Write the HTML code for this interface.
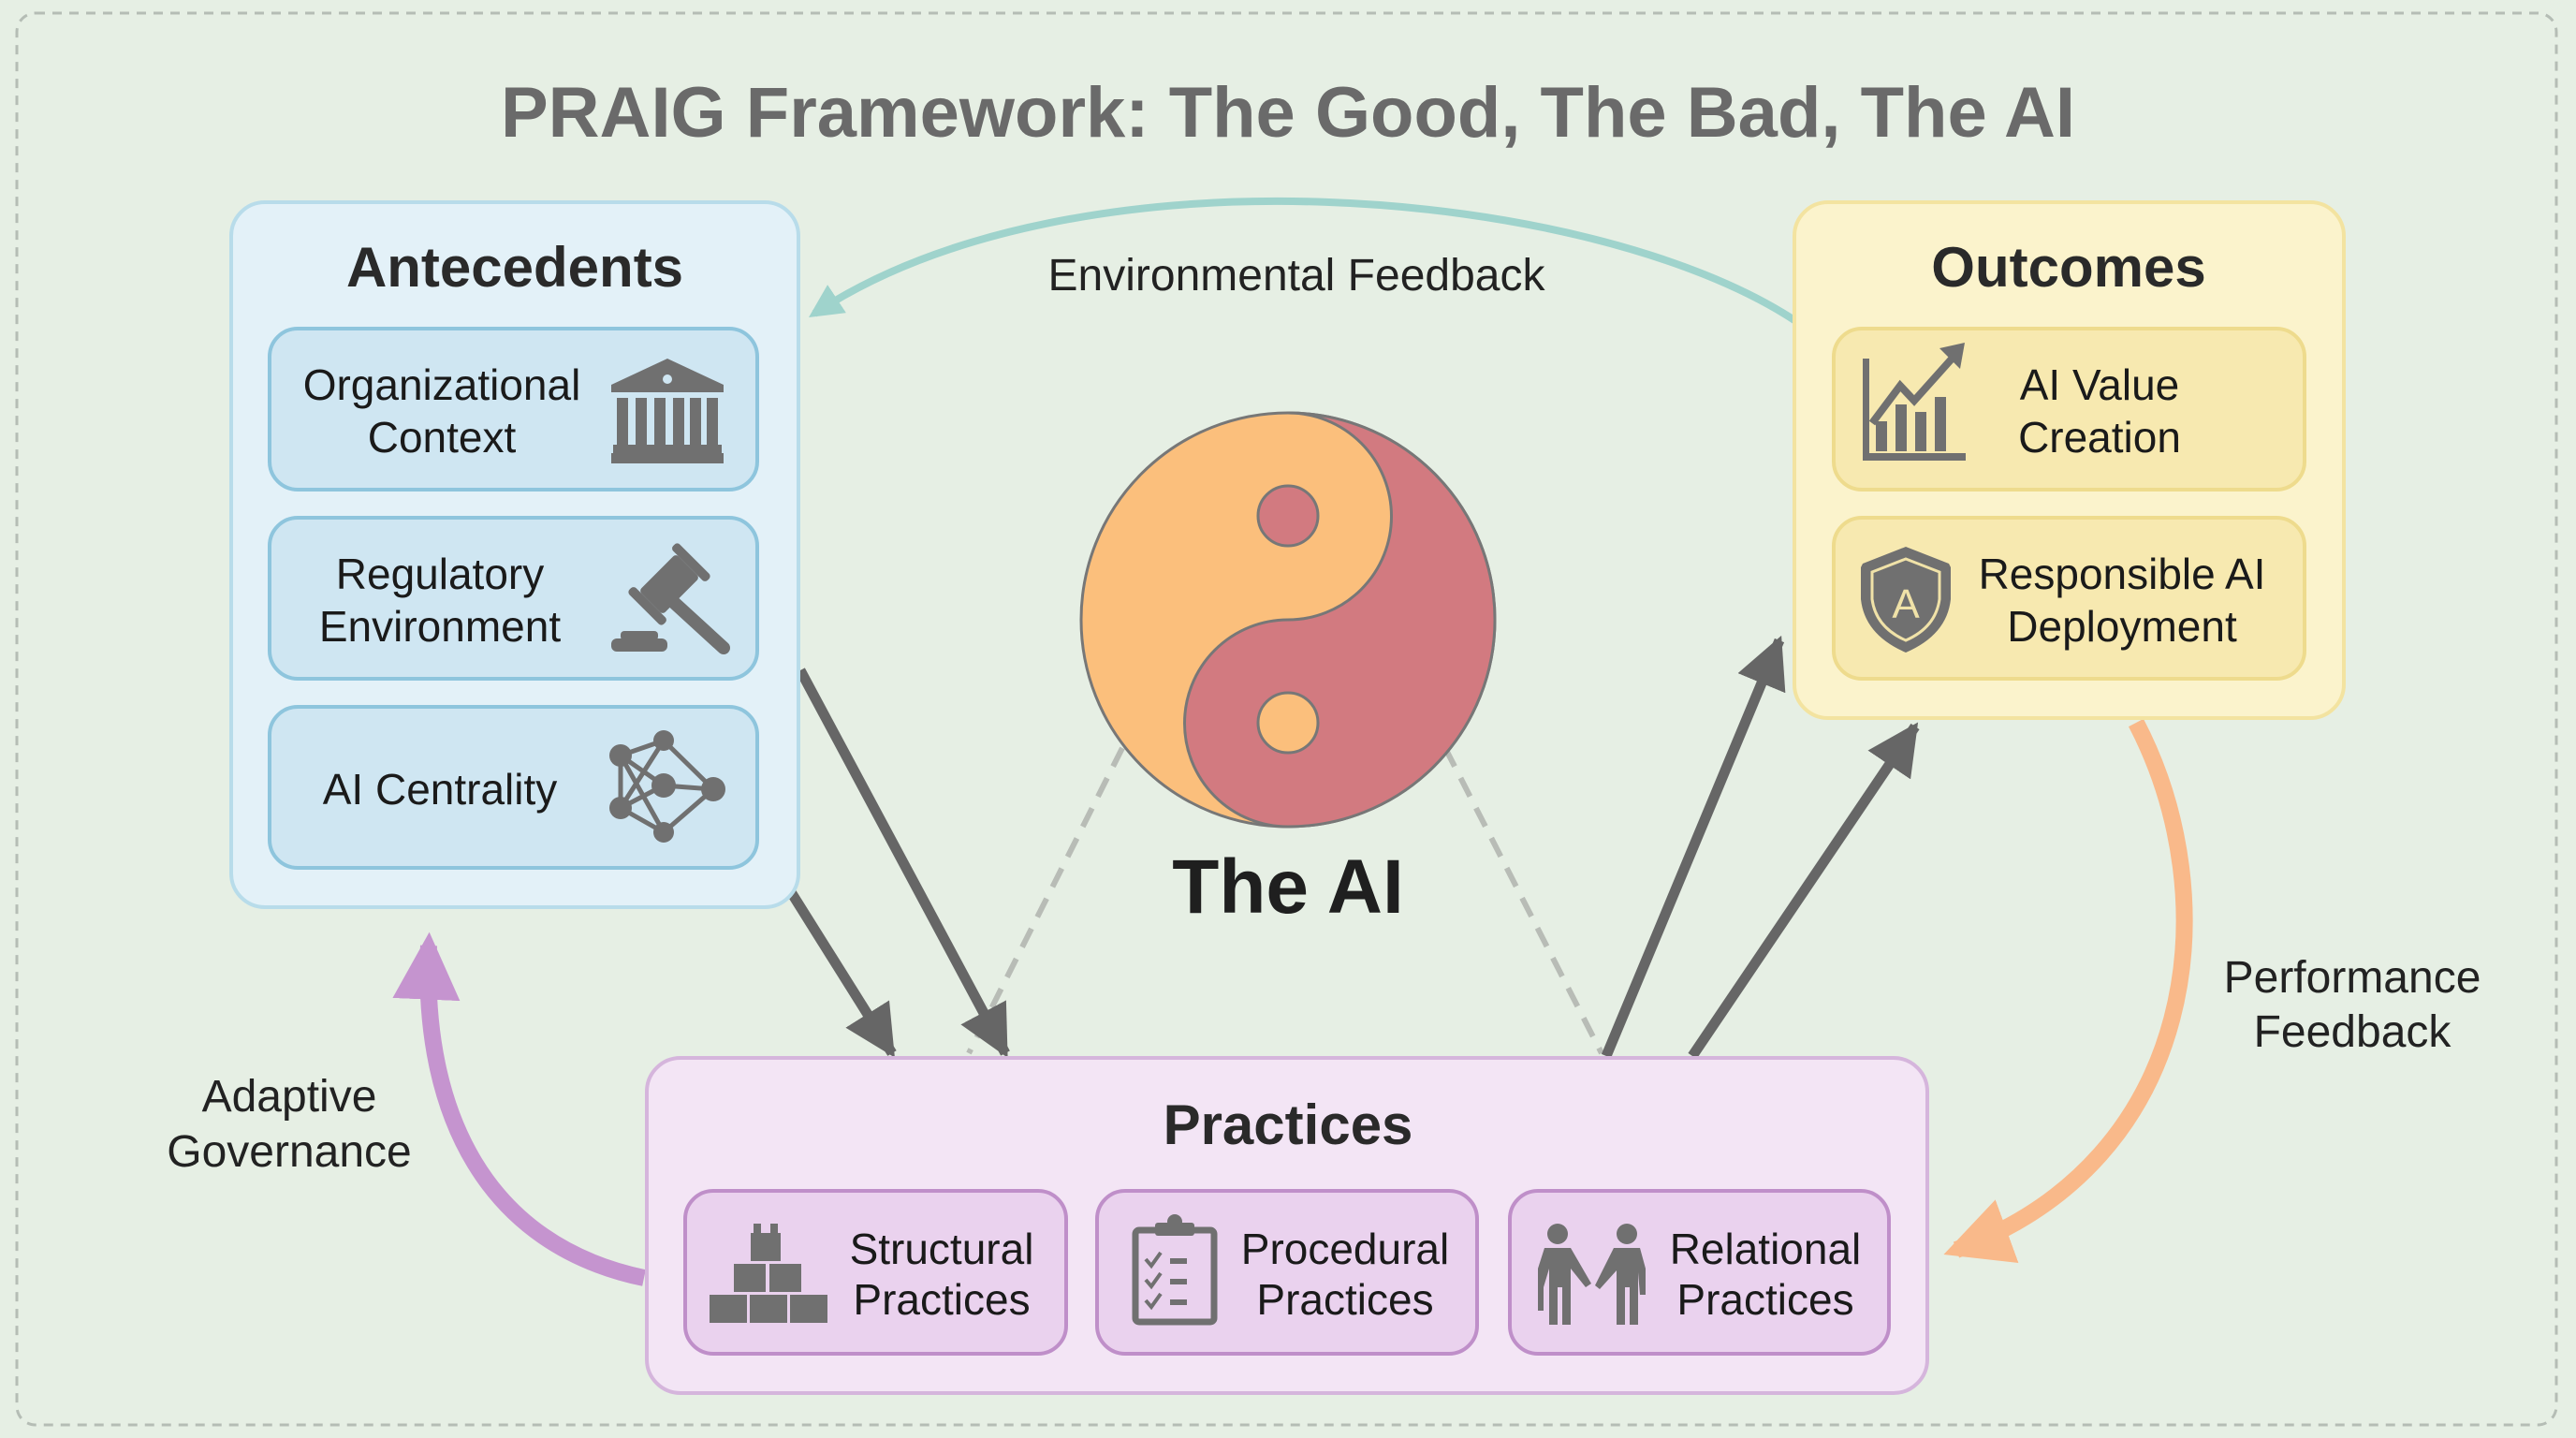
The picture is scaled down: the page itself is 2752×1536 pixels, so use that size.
<!DOCTYPE html>
<html><head><meta charset="utf-8"><style>
html,body{margin:0;padding:0;background:#e6efe4;}
svg{display:block}
text{font-family:"Liberation Sans",sans-serif;}
</style></head><body>
<svg width="2752" height="1536" viewBox="0 0 2752 1536" xmlns="http://www.w3.org/2000/svg">
<defs>
<marker id="ag" viewBox="0 0 10 10" refX="9" refY="5" markerWidth="5" markerHeight="5" orient="auto" markerUnits="strokeWidth"><path d="M0,0 L10,5 L0,10 z" fill="#666"/></marker>
<marker id="at" viewBox="0 0 10 10" refX="8" refY="5" markerWidth="4.5" markerHeight="4.5" orient="auto" markerUnits="strokeWidth"><path d="M0,0 L10,5 L0,10 z" fill="#9fd3cc"/></marker>
<marker id="ao" viewBox="0 0 10 10" refX="8" refY="5" markerWidth="4" markerHeight="4" orient="auto" markerUnits="strokeWidth"><path d="M0,0 L10,5 L0,10 z" fill="#f9b98a"/></marker>
<marker id="ap" viewBox="0 0 10 10" refX="8" refY="5" markerWidth="4" markerHeight="4" orient="auto" markerUnits="strokeWidth"><path d="M0,0 L10,5 L0,10 z" fill="#c594cf"/></marker>
</defs>
<rect x="0" y="0" width="2752" height="1536" fill="#e6efe4"/>
<rect x="18" y="14" width="2713" height="1508" rx="20" fill="none" stroke="#b5bdb5" stroke-width="3" stroke-dasharray="10 8"/>
<text x="1376" y="146" font-size="76" font-weight="bold" fill="#6a6a6a" text-anchor="middle">PRAIG Framework: The Good, The Bad, The AI</text>

<!-- feedback arcs -->
<path d="M1917,342 C1700,200 1150,150 870,335" fill="none" stroke="#9fd3cc" stroke-width="8" marker-end="url(#at)"/>
<text x="1385" y="310" font-size="48" fill="#222" text-anchor="middle">Environmental Feedback</text>
<path d="M2282,772 C2380,960 2350,1240 2090,1335" fill="none" stroke="#f9b98a" stroke-width="18" marker-end="url(#ao)"/>
<text x="2513" y="1060" font-size="48" fill="#222" text-anchor="middle">Performance</text>
<text x="2513" y="1118" font-size="48" fill="#222" text-anchor="middle">Feedback</text>
<path d="M688,1365 C520,1330 450,1190 458,1010" fill="none" stroke="#c594cf" stroke-width="18" marker-end="url(#ap)"/>
<text x="309" y="1187" font-size="48" fill="#222" text-anchor="middle">Adaptive</text>
<text x="309" y="1246" font-size="48" fill="#222" text-anchor="middle">Governance</text>

<!-- dashed lines -->
<line x1="1199" y1="799" x2="1035" y2="1125" stroke="#b8bcb6" stroke-width="6" stroke-dasharray="22 14"/>
<line x1="1544" y1="799" x2="1711" y2="1125" stroke="#b8bcb6" stroke-width="6" stroke-dasharray="22 14"/>

<!-- gray arrows -->
<line x1="855" y1="716" x2="1074" y2="1125" stroke="#666" stroke-width="11" marker-end="url(#ag)"/>
<line x1="842" y1="948" x2="953" y2="1125" stroke="#666" stroke-width="11" marker-end="url(#ag)"/>
<line x1="1716" y1="1128" x2="1901" y2="684" stroke="#666" stroke-width="11" marker-end="url(#ag)"/>
<line x1="1808" y1="1128" x2="2046" y2="776" stroke="#666" stroke-width="11" marker-end="url(#ag)"/>

<!-- Antecedents -->
<rect x="247" y="216" width="606" height="753" rx="36" fill="#e3f1f8" stroke="#b8dcea" stroke-width="4"/>
<text x="550" y="306" font-size="60" font-weight="bold" fill="#2a2a2a" text-anchor="middle">Antecedents</text>
<rect x="288" y="351" width="521" height="172" rx="30" fill="#cfe6f2" stroke="#8ec5dd" stroke-width="4"/>
<rect x="288" y="553" width="521" height="172" rx="30" fill="#cfe6f2" stroke="#8ec5dd" stroke-width="4"/>
<rect x="288" y="755" width="521" height="172" rx="30" fill="#cfe6f2" stroke="#8ec5dd" stroke-width="4"/>
<text x="472" y="427" font-size="46" fill="#1a1a1a" text-anchor="middle">Organizational</text>
<text x="472" y="483" font-size="46" fill="#1a1a1a" text-anchor="middle">Context</text>
<text x="470" y="629" font-size="46" fill="#1a1a1a" text-anchor="middle">Regulatory</text>
<text x="470" y="685" font-size="46" fill="#1a1a1a" text-anchor="middle">Environment</text>
<text x="470" y="859" font-size="46" fill="#1a1a1a" text-anchor="middle">AI Centrality</text>
<!-- bank -->
<g fill="#707070" transform="translate(653,383)">
<path d="M60,0 L120,28 L120,36 L0,36 L0,28 Z"/>
<circle cx="60" cy="22" r="5" fill="#cfe6f2"/>
<rect x="6" y="42" width="12" height="50"/><rect x="26" y="42" width="12" height="50"/><rect x="46" y="42" width="12" height="50"/><rect x="66" y="42" width="12" height="50"/><rect x="84" y="42" width="12" height="50"/><rect x="102" y="42" width="12" height="50"/>
<rect x="2" y="92" width="116" height="9"/><rect x="0" y="101" width="120" height="11"/>
</g>
<!-- gavel -->
<g fill="#707070" transform="translate(653,584)">
<g transform="rotate(45 62 40)">
<rect x="44" y="12" width="36" height="56" rx="4"/>
<rect x="36" y="2" width="52" height="10" rx="4"/>
<rect x="36" y="68" width="52" height="10" rx="4"/>
<rect x="56" y="74" width="13" height="0"/>
</g>
<path d="M62,55 L120,108" stroke="#707070" stroke-width="14" stroke-linecap="round"/>
<rect x="10" y="90" width="40" height="10" rx="4"/><rect x="0" y="98" width="60" height="14" rx="6"/>
</g>
<!-- network -->
<g transform="translate(649,783)">
<g stroke="#707070" stroke-width="5" fill="none">
<path d="M60,8 L14,24 L60,56 L113,60 L60,106 L14,80 L60,56 M60,8 L113,60 M14,24 L60,106 M14,80 L60,8 M14,24 L14,80"/>
</g>
<g fill="#707070"><circle cx="60" cy="8" r="11"/><circle cx="14" cy="24" r="12"/><circle cx="60" cy="56" r="13"/><circle cx="113" cy="60" r="13"/><circle cx="14" cy="80" r="12"/><circle cx="60" cy="106" r="11"/></g>
</g>

<!-- Outcomes -->
<rect x="1917" y="216" width="587" height="551" rx="36" fill="#fbf3cc" stroke="#f3e3a0" stroke-width="4"/>
<text x="2210" y="306" font-size="60" font-weight="bold" fill="#2a2a2a" text-anchor="middle">Outcomes</text>
<rect x="1959" y="351" width="503" height="172" rx="30" fill="#f7e9b0" stroke="#eedb8d" stroke-width="4"/>
<rect x="1959" y="553" width="503" height="172" rx="30" fill="#f7e9b0" stroke="#eedb8d" stroke-width="4"/>
<text x="2243" y="427" font-size="46" fill="#1a1a1a" text-anchor="middle">AI Value</text>
<text x="2243" y="483" font-size="46" fill="#1a1a1a" text-anchor="middle">Creation</text>
<text x="2267" y="629" font-size="46" fill="#1a1a1a" text-anchor="middle">Responsible AI</text>
<text x="2267" y="685" font-size="46" fill="#1a1a1a" text-anchor="middle">Deployment</text>
<g fill="#707070">
<rect x="1990" y="383" width="7" height="108"/><rect x="1990" y="484" width="110" height="8"/>
<rect x="2004" y="450" width="12" height="32"/><rect x="2025" y="432" width="12" height="50"/><rect x="2046" y="440" width="12" height="42"/><rect x="2067" y="424" width="12" height="58"/><rect x="2084" y="405" width="0" height="0"/>
</g>
<path d="M2000,452 L2030,412 L2045,428 L2088,380" stroke="#707070" stroke-width="8" fill="none"/>
<path d="M2099,366 L2072,372 L2094,394 Z" fill="#707070"/>
<path d="M2036,584 L2082,602 L2084,606 L2084,640 Q2080,678 2036,697 Q1992,678 1988,640 L1988,606 L1990,602 Z" fill="#707070"/>
<path d="M2036,597 L2072,611 L2072,640 Q2068,670 2036,684 Q2004,670 2000,640 L2000,611 Z" fill="none" stroke="#f0e2a8" stroke-width="3"/>
<text x="2036" y="660" font-size="44" fill="#f0e2a8" text-anchor="middle">A</text>

<!-- Practices -->
<rect x="691" y="1130" width="1368" height="358" rx="36" fill="#f3e5f5" stroke="#d5b5dc" stroke-width="4"/>
<text x="1376" y="1222" font-size="60" font-weight="bold" fill="#2a2a2a" text-anchor="middle">Practices</text>
<rect x="732" y="1272" width="407" height="174" rx="30" fill="#ead2ee" stroke="#bf8fc9" stroke-width="4"/>
<rect x="1172" y="1272" width="406" height="174" rx="30" fill="#ead2ee" stroke="#bf8fc9" stroke-width="4"/>
<rect x="1613" y="1272" width="405" height="174" rx="30" fill="#ead2ee" stroke="#bf8fc9" stroke-width="4"/>
<text x="1006" y="1350" font-size="46" fill="#1a1a1a" text-anchor="middle">Structural</text>
<text x="1006" y="1404" font-size="46" fill="#1a1a1a" text-anchor="middle">Practices</text>
<text x="1437" y="1350" font-size="46" fill="#1a1a1a" text-anchor="middle">Procedural</text>
<text x="1437" y="1404" font-size="46" fill="#1a1a1a" text-anchor="middle">Practices</text>
<text x="1886" y="1350" font-size="46" fill="#1a1a1a" text-anchor="middle">Relational</text>
<text x="1886" y="1404" font-size="46" fill="#1a1a1a" text-anchor="middle">Practices</text>
<g fill="#707070" transform="translate(758,1307)">
<rect x="47" y="0" width="8" height="12"/><rect x="65" y="0" width="8" height="12"/>
<rect x="44" y="10" width="32" height="30"/>
<rect x="26" y="43" width="34" height="30"/><rect x="64" y="43" width="34" height="30"/>
<rect x="0" y="76" width="40" height="30"/><rect x="43" y="76" width="40" height="30"/><rect x="86" y="76" width="40" height="30"/>
</g>
<g>
<rect x="1213" y="1314" width="84" height="98" rx="4" fill="none" stroke="#707070" stroke-width="7"/>
<rect x="1234" y="1306" width="42" height="14" rx="3" fill="#707070"/><circle cx="1255" cy="1305" r="8" fill="#707070"/>
<path d="M1224,1345 l6,7 l10,-14 M1224,1367 l6,7 l10,-14 M1224,1389 l6,7 l10,-14" stroke="#707070" stroke-width="4" fill="none"/>
<path d="M1250,1347 h18 M1250,1369 h18 M1250,1391 h18" stroke="#707070" stroke-width="6"/>
</g>
<g fill="#707070">
<circle cx="1664" cy="1318" r="11"/><circle cx="1738" cy="1318" r="11"/>
<path d="M1650,1333 h28 l22,38 l-6,4 l-16,-20 v60 h-9 v-40 h-5 v40 h-9 v-60 l-6,20 v25 h-6 v-45 Z"/>
<path d="M1724,1333 h28 l6,22 v28 h-6 l-2,-24 v56 h-9 v-40 h-5 v40 h-9 v-58 l-18,20 l-5,-4 Z"/>
</g>

<!-- Yin yang -->
<circle cx="1376" cy="662" r="221" fill="#fbbf7c" stroke="#777" stroke-width="3"/>
<path d="M1376,441 A221,221 0 0 1 1376,883 A110.5,110.5 0 0 1 1376,662 A110.5,110.5 0 0 0 1376,441 Z" fill="#d27a80" stroke="#777" stroke-width="3"/>
<circle cx="1376" cy="551" r="32" fill="#d27a80" stroke="#777" stroke-width="3"/>
<circle cx="1376" cy="772" r="32" fill="#fbbf7c" stroke="#777" stroke-width="3"/>
<text x="1376" y="975" font-size="82" font-weight="bold" fill="#1f1f1f" text-anchor="middle">The AI</text>
</svg>
</body></html>
